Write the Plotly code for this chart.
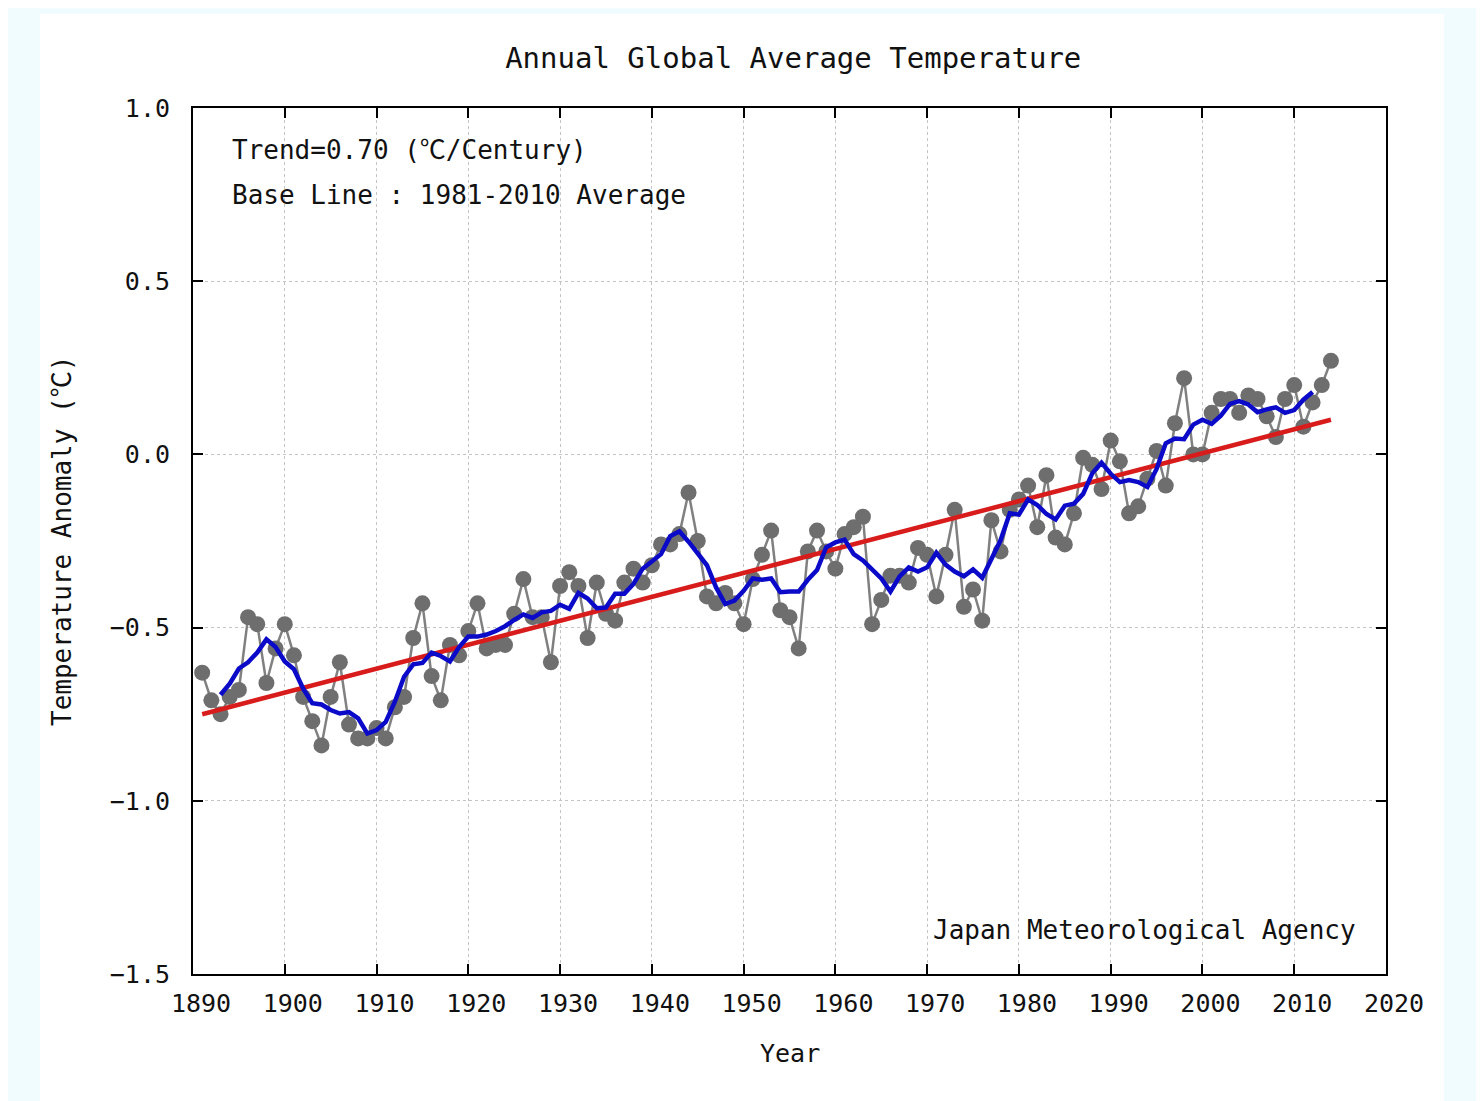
import plotly.graph_objects as go
import pandas as pd

# annual anomaly (deg C, base 1981-2010)
years = list(range(1891, 2015))
anomaly = [
    -0.63, -0.71, -0.75, -0.70, -0.68, -0.47, -0.49, -0.66, -0.56, -0.49,  # 1891-1900
    -0.58, -0.70, -0.77, -0.84, -0.70, -0.60, -0.78, -0.82, -0.82, -0.79,  # 1901-1910
    -0.82, -0.73, -0.70, -0.53, -0.43, -0.64, -0.71, -0.55, -0.58, -0.51,  # 1911-1920
    -0.43, -0.56, -0.55, -0.55, -0.46, -0.36, -0.47, -0.47, -0.60, -0.38,  # 1921-1930
    -0.34, -0.38, -0.53, -0.37, -0.46, -0.48, -0.37, -0.33, -0.37, -0.32,  # 1931-1940
    -0.26, -0.26, -0.23, -0.11, -0.25, -0.41, -0.43, -0.40, -0.43, -0.49,  # 1941-1950
    -0.36, -0.29, -0.22, -0.45, -0.47, -0.56, -0.28, -0.22, -0.28, -0.33,  # 1951-1960
    -0.23, -0.21, -0.18, -0.49, -0.42, -0.35, -0.35, -0.37, -0.27, -0.29,  # 1961-1970
    -0.41, -0.29, -0.16, -0.44, -0.39, -0.48, -0.19, -0.28, -0.16, -0.13,  # 1971-1980
    -0.09, -0.21, -0.06, -0.24, -0.26, -0.17, -0.01, -0.03, -0.10, 0.04,   # 1981-1990
    -0.02, -0.17, -0.15, -0.07, 0.01, -0.09, 0.09, 0.22, 0.00, 0.00,       # 1991-2000
    0.12, 0.16, 0.16, 0.12, 0.17, 0.16, 0.11, 0.05, 0.16, 0.20,            # 2001-2010
    0.08, 0.15, 0.20, 0.27,                                                # 2011-2014
]

# long-term trend line end points (0.70 C/century)
trend_years = [1891, 2014]
trend_values = [-0.75, 0.10]

df = pd.DataFrame({"year": years, "anomaly": anomaly})
# 5-year running mean (blue curve)
df["smooth"] = df["anomaly"].rolling(5, center=True).mean()

font_name = "DejaVu Sans Mono, Noto Sans CJK JP, monospace"

fig = go.Figure()
fig.add_trace(go.Scatter(
    x=df["year"], y=df["anomaly"], mode="lines+markers",
    line=dict(color="#808080", width=2.5),
    marker=dict(color="#6e6e6e", size=16),
    showlegend=False,
))
fig.add_trace(go.Scatter(
    x=trend_years, y=trend_values, mode="lines",
    line=dict(color="#d81c1c", width=4.5),
    showlegend=False,
))
fig.add_trace(go.Scatter(
    x=df["year"], y=df["smooth"], mode="lines",
    line=dict(color="#0a0ac8", width=4.5),
    showlegend=False,
))

# page has an 8px body margin, so the figure is sized to fit inside it
fig.update_layout(
    width=1476,
    height=1093,
    margin=dict(l=185, r=98, t=100, b=127),
    paper_bgcolor="#f0fcff",
    plot_bgcolor="white",
    font=dict(family=font_name, size=25, color="#111"),
    title=dict(
        text="Annual Global Average Temperature",
        x=0.532, xanchor="center",
        y=1 - 50 / 1093, yanchor="middle",
        font=dict(family=font_name, size=29, color="#111"),
    ),
    shapes=[
        # white sheet behind the chart
        dict(type="rect", xref="paper", yref="paper", layer="below",
             x0=-0.1282, x1=1.0486, y0=-0.16, y1=1.1085,
             fillcolor="white", line=dict(width=0)),
    ],
    annotations=[
        dict(text="Trend=0.70 (℃/Century)", xref="paper", yref="paper",
             x=0.031, y=0.9515, xanchor="left", yanchor="middle",
             showarrow=False, font=dict(size=26)),
        dict(text="Base Line : 1981-2010 Average", xref="paper", yref="paper",
             x=0.031, y=0.8995, xanchor="left", yanchor="middle",
             showarrow=False, font=dict(size=26)),
        dict(text="Japan Meteorological Agency", xref="paper", yref="paper",
             x=0.9765, y=0.0508, xanchor="right", yanchor="middle",
             showarrow=False, font=dict(size=26)),
        dict(text="Temperature Anomaly (℃)", xref="paper", yref="paper",
             x=-0.1098, y=0.5, xanchor="center", yanchor="middle",
             textangle=-90, showarrow=False, font=dict(size=26)),
        dict(text="Year", xref="paper", yref="paper",
             x=0.5, y=(974 - 1053) / 866, xanchor="center", yanchor="middle",
             showarrow=False, font=dict(size=25)),
    ],
)
fig.update_xaxes(
    range=[1890, 2020], dtick=10, tick0=1890,
    showgrid=True, gridcolor="#c4c4c4", griddash="dot", gridwidth=1,
    zeroline=False, showline=True, linecolor="black", linewidth=2,
    mirror="ticks", ticks="inside", ticklen=10, tickwidth=2, tickcolor="black",
    ticklabelstandoff=6, ticklabelshift=8,
)
fig.update_yaxes(
    range=[-1.5, 1.0], dtick=0.5, tick0=-1.5, tickformat=".1f",
    showgrid=True, gridcolor="#c4c4c4", griddash="dot", gridwidth=1,
    zeroline=False, showline=True, linecolor="black", linewidth=2,
    mirror="ticks", ticks="inside", ticklen=10, tickwidth=2, tickcolor="black",
    ticklabelstandoff=16,
)

fig.write_html("out.html")
